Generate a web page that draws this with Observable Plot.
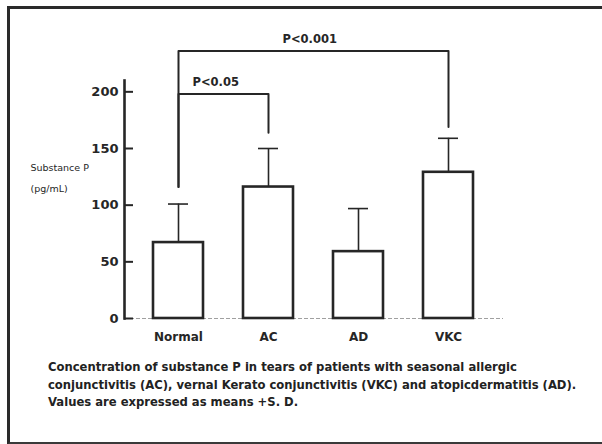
<!DOCTYPE html>
<html>
<head>
<meta charset="utf-8">
<script src="https://cdn.jsdelivr.net/npm/d3@7"></script>
<script src="https://cdn.jsdelivr.net/npm/@observablehq/plot@0.6"></script>
<style>
  html, body { margin: 0; padding: 0; background: #fff; overflow: hidden; }
  #page { position: relative; width: 602px; height: 444px; overflow: hidden; background: #fff; }
  #border { position: absolute; left: 7px; top: 6px; width: 600px; height: 433px;
            border-left: 3px solid #2a2a2a; border-top: 3px solid #2a2a2a; border-bottom: 3px solid #3a3a3a; }
  #chart { position: absolute; left: 0; top: 0; }
  #caption { position: absolute; left: 48px; top: 359px; font-family: "DejaVu Sans", sans-serif;
             font-size: 11.6px; font-weight: bold; line-height: 17.5px; color: #222; white-space: pre; }
</style>
</head>
<body>
<div id="page">
  <div id="border"></div>
  <div id="chart"></div>
  <div id="caption"></div>
</div>
<script>
// ---- data ----
const categories = ["Normal", "AC", "AD", "VKC"];
const means = [67, 116, 59, 129];
const sds = [34, 34, 38, 30];
const yTicks = [0, 50, 100, 150, 200];
const compLabels = ["P<0.05", "P<0.001"];
const compFrom = ["Normal", "Normal"];
const compTo = ["AC", "VKC"];
const compLevel = [198, 236];
const compFromEnd = [116, 116];
const compToEnd = [164, 169];
const compLabelAt = ["Normal", "AC"];
const yLabel = "Substance P\n(pg/mL)";
const captionLines = [
  "Concentration of substance P in tears of patients with seasonal allergic",
  "conjunctivitis (AC), vernal Kerato conjunctivitis (VKC) and atopicdermatitis (AD).",
  "Values are expressed as means +S. D."
];

// ---- derived tables ----
const rows = categories.map((c, i) => ({cat: c, mean: means[i], top: means[i] + sds[i]}));
const bracketPts = compLabels.flatMap((lab, i) => [
  {k: i, x: compFrom[i], y: compFromEnd[i]},
  {k: i, x: compFrom[i], y: compLevel[i]},
  {k: i, x: compTo[i], y: compLevel[i]},
  {k: i, x: compTo[i], y: compToEnd[i]}
]);
const labelRows = compLabels.map((lab, i) => ({label: lab, at: compLabelAt[i], y: compLevel[i]}));

const ink = "#262626";
const font = "DejaVu Sans, sans-serif";

const plot = Plot.plot({
  width: 602,
  height: 350,
  marginLeft: 124,
  marginRight: 99,
  marginTop: 80,
  marginBottom: 32,
  style: {fontFamily: font, color: ink, background: "transparent"},
  x: {domain: categories, paddingInner: 0.444, paddingOuter: 0.327, label: null},
  y: {domain: [0, 210], label: null},
  marks: [
    Plot.ruleY([0], {stroke: "#a0a0a0", strokeWidth: 1.2, strokeDasharray: "4,2"}),
    Plot.frame({anchor: "left", stroke: ink, strokeWidth: 2.6}),
    Plot.axisY({ticks: yTicks, tickSize: -9, tickPadding: 15, strokeWidth: 2, stroke: ink,
                fontSize: 13, fontWeight: "bold", fill: ink, label: null}),
    Plot.axisX({tickSize: 0, tickPadding: 14, fontSize: 12, fontWeight: "bold", fill: ink, label: null}),
    Plot.ruleX(rows, {x: "cat", y1: "mean", y2: "top", stroke: ink, strokeWidth: 1.6}),
    Plot.tickY(rows, {x: "cat", y: "top", insetLeft: 15, insetRight: 15, stroke: ink, strokeWidth: 1.6}),
    Plot.barY(rows, {x: "cat", y: "mean", fill: "white", stroke: ink, strokeWidth: 2.6}),
    Plot.line(bracketPts, {x: "x", y: "y", z: "k", stroke: ink, strokeWidth: 2, curve: "linear"}),
    Plot.text(labelRows, {x: "at", y: "y", text: "label", textAnchor: "start", dx: 14, dy: -12,
                          fontSize: 11.5, fontWeight: "bold", fill: ink}),
    Plot.text([yLabel], {frameAnchor: "left", textAnchor: "start", dx: -94, dy: -25,
                         lineHeight: 2.2, fontSize: 9.5, fill: ink})
  ]
});
document.getElementById("chart").appendChild(plot);
document.getElementById("caption").textContent = captionLines.join("\n");
</script>
</body>
</html>
